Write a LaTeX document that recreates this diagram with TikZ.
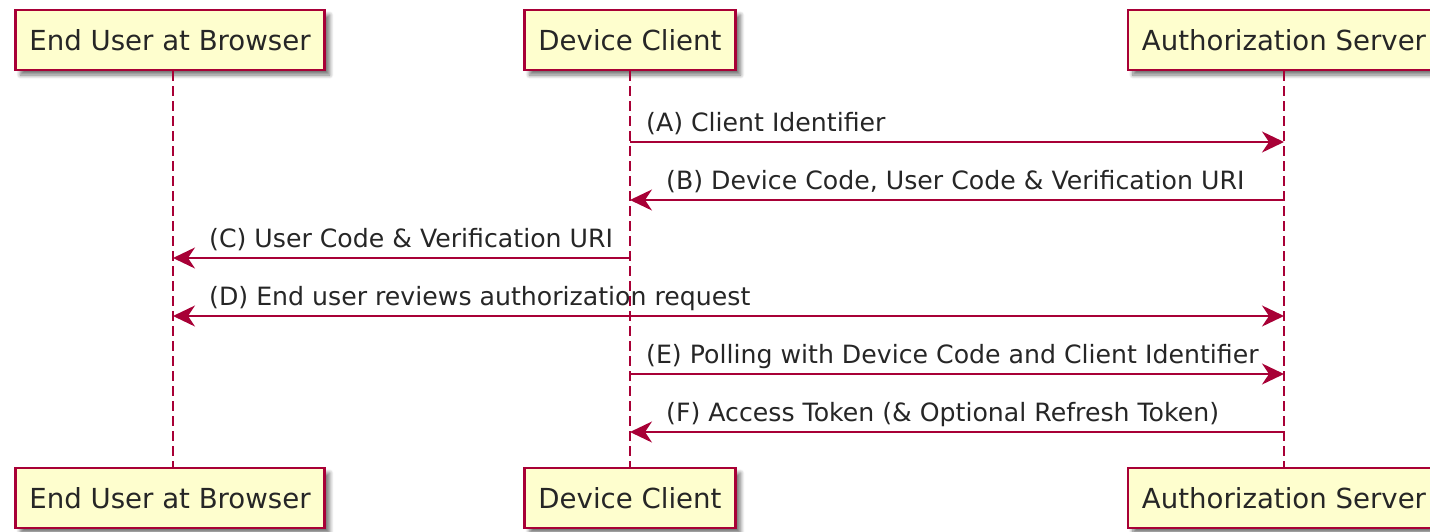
\documentclass[tikz,border=0pt]{standalone}
\usepackage{fontspec}
\setmainfont{DejaVu Sans}
\usetikzlibrary{arrows.meta,shadows.blur}

\definecolor{umlred}{HTML}{A80036}
\definecolor{umlfill}{HTML}{FEFECE}

\tikzset{
	actor/.style={draw=umlred, fill=umlfill, line width=2.5pt, minimum height=60pt,
		inner xsep=14pt, font=\fontsize{27.6}{32}\selectfont, text=black!85,
		blur shadow={shadow xshift=5pt, shadow yshift=-5pt, shadow blur steps=8,
			shadow blur radius=4pt, shadow opacity=55}},
	life/.style={umlred, line width=2pt, dash pattern=on 10pt off 5pt},
	msg/.style={umlred, line width=2pt, -{Stealth[length=22pt,width=21pt,inset=7pt]}},
	dmsg/.style={msg, {Stealth[length=22pt,width=21pt,inset=7pt]}-{Stealth[length=22pt,width=21pt,inset=7pt]}},
	lbl/.style={anchor=base west, inner sep=0pt, font=\fontsize{25.2}{30}\selectfont, text=black!85}
}

\begin{document}
\begin{tikzpicture}[x=1pt,y=-1pt]
	
	\useasboundingbox (0,0) rectangle (1430,531);
	
	% participants, top and bottom
	\node[actor] (userT) at (170,40) {End User at Browser};
	\node[actor] (devT) at (630,40) {Device Client};
	\node[actor] (authT) at (1284,40) {Authorization Server};
	
	\node[actor] (userB) at (170,498) {End User at Browser};
	\node[actor] (devB) at (630,498) {Device Client};
	\node[actor] (authB) at (1284,498) {Authorization Server};
	
	% lifelines
	\draw[life] ([xshift=3pt]userT.south) -- ([xshift=3pt]userB.north);
	\draw[life] (devT.south) -- (devB.north);
	\draw[life] (authT.south) -- (authB.north);
	
	% message rows
	\foreach \r/\y in {a/142,b/200,c/258,d/316,e/374,f/432}
	{
		\coordinate (u\r) at (173,\y);
		\coordinate (d\r) at (630,\y);
		\coordinate (s\r) at (1284,\y);
	}
	
	\draw[msg] (da) -- (sa);
	\node[lbl] (la) at ([xshift=16pt,yshift=11pt]da) {(A) Client Identifier};
	
	\draw[msg] (sb) -- (db);
	\node[lbl] (lb) at ([xshift=36pt,yshift=11pt]db) {(B) Device Code, User Code \& Verification URI};
	
	\draw[msg] (dc) -- (uc);
	\node[lbl] (lc) at ([xshift=36pt,yshift=11pt]uc) {(C) User Code \& Verification URI};
	
	\draw[dmsg] (ud) -- (sd);
	\node[lbl] (ld) at ([xshift=36pt,yshift=11pt]ud) {(D) End user reviews authorization request};
	
	\draw[msg] (de) -- (se);
	\node[lbl] (le) at ([xshift=16pt,yshift=11pt]de) {(E) Polling with Device Code and Client Identifier};
	
	\draw[msg] (sf) -- (df);
	\node[lbl] (lf) at ([xshift=36pt,yshift=11pt]df) {(F) Access Token (\& Optional Refresh Token)};
	
\end{tikzpicture}
\end{document}
